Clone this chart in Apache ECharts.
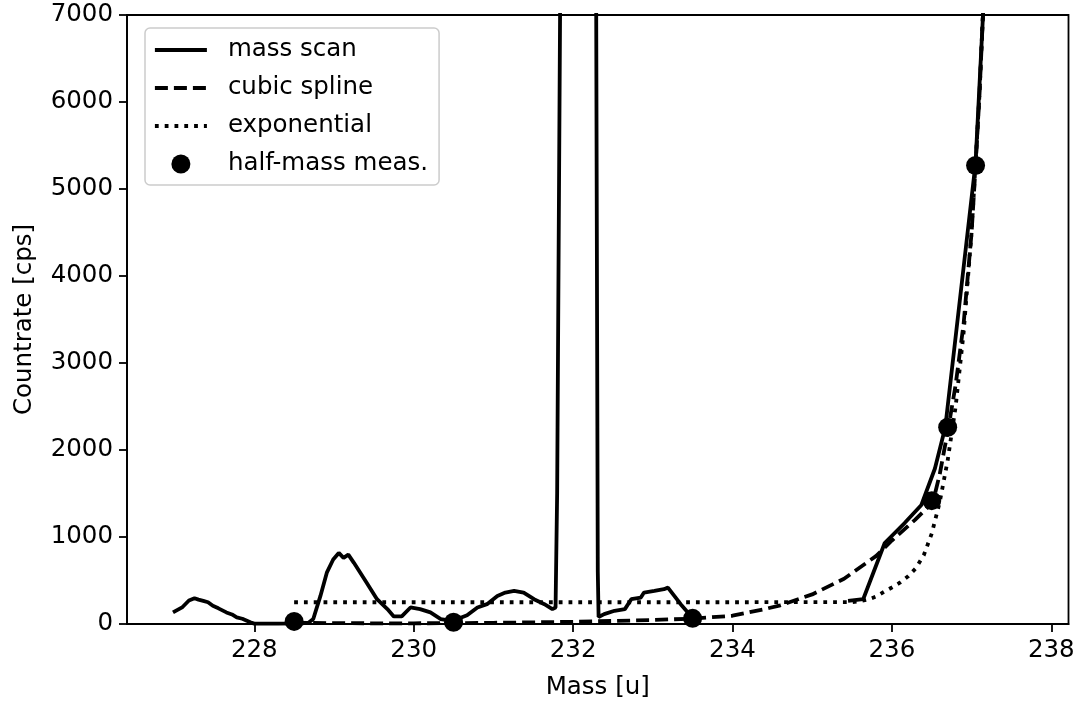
<!DOCTYPE html>
<html>
<head>
<meta charset="utf-8">
<script src="https://cdn.jsdelivr.net/npm/echarts@6/dist/echarts.min.js"></script>
<style>
html,body{margin:0;padding:0;background:#fff;}
#chart{width:1078px;height:706px;}
</style>
</head>
<body>
<div id="chart"></div>
<script>
// ---- data ----
const xTicks = [228, 230, 232, 234, 236, 238];
const scanMass = [226.98, 227.1, 227.18, 227.25, 227.3, 227.36, 227.42, 227.48, 227.55, 227.65, 227.72, 227.78, 227.85, 227.95, 228.0, 228.3, 228.6, 228.68,
  228.74, 228.83, 228.91, 228.99, 229.06, 229.12, 229.18, 229.25, 229.33, 229.41, 229.54, 229.67, 229.75, 229.85, 229.96, 230.08, 230.21, 230.34, 230.46,
  230.55, 230.67, 230.8, 230.92, 231.05, 231.15, 231.26, 231.38, 231.51, 231.64, 231.74, 231.78, 231.8, 231.87, 232.0, 232.2, 232.25, 232.31, 232.32,
  232.39, 232.52, 232.65, 232.73, 232.85, 232.89, 233.02, 233.14, 233.19, 233.27, 233.35, 233.44, 233.52, 233.56, 234.5,
  235.45, 235.64, 235.91, 236.16, 236.37, 236.54, 236.67, 237.05, 237.16];
const scanCount = [133, 195, 270, 296, 280, 266, 250, 209, 180, 133, 110, 76, 60, 19, 5, 5, 8, 15,
  57, 323, 590, 741, 817, 760, 798, 703, 590, 475, 285, 171, 87, 87, 190, 171, 133, 57, 38,
  57, 100, 190, 228, 323, 361, 380, 361, 285, 228, 171, 190, 1500, 12000, 40000, 40000, 20000, 600, 80,
  114, 152, 171, 285, 304, 361, 380, 400, 418, 323, 228, 133, 76, 40, null,
  266, 285, 931, 1160, 1368, 1787, 2261, 5300, 7300];
const splineMass = [228.5, 229, 229.5, 230, 230.5, 231, 231.5, 232, 232.5, 233, 233.5, 234, 234.4, 234.6, 235.0, 235.4, 235.8, 236.0, 236.29, 236.46, 236.52, 236.6, 236.71, 236.8, 236.9, 237.0, 237.05, 237.1, 237.2];
const splineCount = [15, 10, 8, 8, 10, 14, 19, 26, 35, 46, 62, 95, 170, 215, 340, 520, 780, 960, 1197, 1349, 1418, 1720, 2260, 2750, 3450, 4500, 5260, 6100, 8200];
const expMass = [228.5, 230, 232, 234, 235.5, 235.6, 235.7, 235.8, 235.9, 236.0, 236.1, 236.2, 236.3, 236.4, 236.5, 236.6, 236.7, 236.8, 236.9, 237.0, 237.1, 237.2];
const expCount = [250, 250, 250, 250, 252, 262, 280, 315, 370, 420, 475, 545, 640, 790, 1040, 1400, 1880, 2500, 3350, 4500, 6100, 8300];
const halfMass = [228.5, 230.5, 233.5, 236.5, 236.7, 237.05];
const halfCount = [30, 20, 65, 1418, 2261, 5270];

const FONT = 'DejaVu Sans';
const FS = 24.5;
const LW = 3.8;
const DASH = [13, 6];
const DOT = [3.8, 6];
const zip = (a, b) => a.map((v, i) => [v, b[i]]);

const chart = echarts.init(document.getElementById('chart'), null, {renderer: 'canvas'});
chart.setOption({
  animation: false,
  backgroundColor: '#fff',
  grid: {left: 127, top: 15, width: 941.5, height: 609, show: true, borderColor: '#000', borderWidth: 1.8, backgroundColor: 'transparent'},
  xAxis: {
    type: 'value', min: 226.403, max: 238.216,
    name: 'Mass [u]', nameLocation: 'middle', nameGap: 51,
    nameTextStyle: {fontFamily: FONT, fontSize: FS, color: '#000'},
    axisLine: {show: true, lineStyle: {color: '#000', width: 1.8}},
    axisTick: {show: true, customValues: xTicks, length: 8, lineStyle: {color: '#000', width: 1.8}},
    axisLabel: {customValues: xTicks, margin: 14, fontFamily: FONT, fontSize: FS, color: '#000', formatter: v => String(v)},
    splitLine: {show: false}
  },
  yAxis: {
    type: 'value', min: 0, max: 7000, interval: 1000,
    name: 'Countrate [cps]', nameLocation: 'middle', nameGap: 90,
    nameTextStyle: {fontFamily: FONT, fontSize: FS, color: '#000'},
    axisLine: {show: true, lineStyle: {color: '#000', width: 1.8}},
    axisTick: {show: true, length: 8, lineStyle: {color: '#000', width: 1.8}},
    axisLabel: {margin: 14, fontFamily: FONT, fontSize: FS, color: '#000', formatter: v => String(v)},
    splitLine: {show: false}
  },
  legend: {
    orient: 'vertical', left: 145, top: 28, align: 'left',
    padding: [9, 11, 8, 8],
    itemWidth: 52, itemHeight: 19, itemGap: 12,
    backgroundColor: 'rgba(255,255,255,0.8)', borderColor: '#cccccc', borderWidth: 1.5, borderRadius: 5,
    lineStyle: {width: LW},
    textStyle: {fontFamily: FONT, fontSize: FS, color: '#000', lineHeight: 26, padding: [0, 0, 0, 16]},
    data: [
      {name: 'mass scan', itemStyle: {opacity: 0}, lineStyle: {width: LW, type: 'solid', color: '#000'}},
      {name: 'cubic spline', itemStyle: {opacity: 0}, lineStyle: {width: LW, type: DASH, color: '#000'}},
      {name: 'exponential', itemStyle: {opacity: 0}, lineStyle: {width: LW, type: DOT, color: '#000'}},
      {name: 'half-mass meas.'}
    ]
  },
  series: [
    {name: 'mass scan', type: 'line', data: zip(scanMass, scanCount), showSymbol: false, symbol: 'none', connectNulls: false, clip: true,
     lineStyle: {color: '#000', width: LW, type: 'solid'}, itemStyle: {color: '#000'}, z: 2},
    {name: 'cubic spline', type: 'line', data: zip(splineMass, splineCount), showSymbol: false, symbol: 'none', clip: true,
     lineStyle: {color: '#000', width: LW, type: DASH, cap: 'butt'}, itemStyle: {color: '#000'}, z: 3},
    {name: 'exponential', type: 'line', data: zip(expMass, expCount), showSymbol: false, symbol: 'none', clip: true,
     lineStyle: {color: '#000', width: LW, type: DOT, cap: 'butt'}, itemStyle: {color: '#000'}, z: 4},
    {name: 'half-mass meas.', type: 'scatter', data: zip(halfMass, halfCount), symbol: 'circle', symbolSize: 19,
     itemStyle: {color: '#000', opacity: 1}, z: 5}
  ]
});
</script>
</body>
</html>
